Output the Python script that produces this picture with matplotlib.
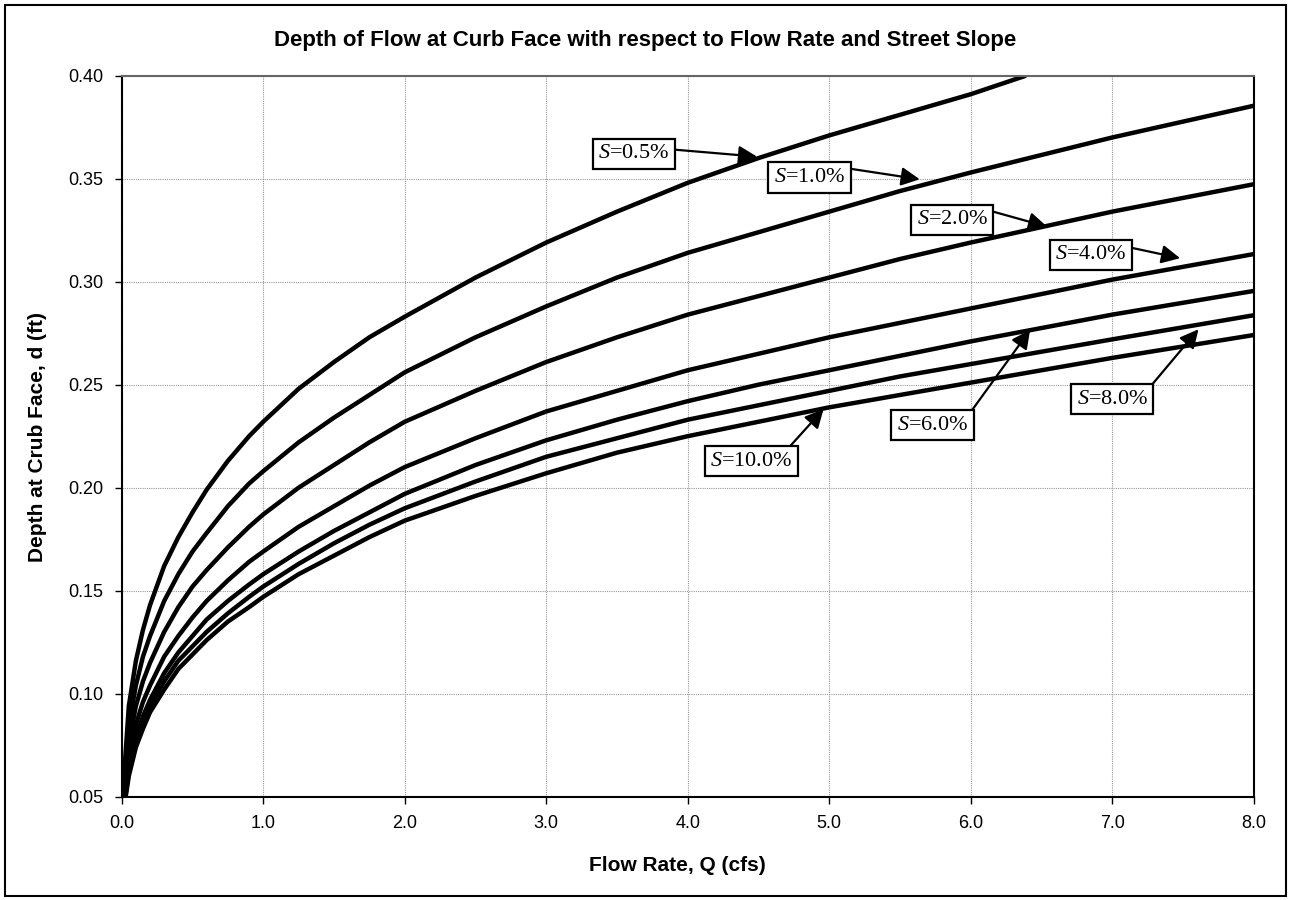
import matplotlib
matplotlib.use("Agg")
import matplotlib.pyplot as plt
from matplotlib.patches import Rectangle

plt.rcParams['font.family'] = 'Liberation Sans'
plt.rcParams['mathtext.fontset'] = 'custom'
plt.rcParams['mathtext.it'] = 'Liberation Serif:italic'
plt.rcParams['mathtext.rm'] = 'Liberation Serif'

# ==============================
# Datos
# ==============================

# Caudal Q (cfs), comun para las pendientes 1% a 10%
q_comun = [0.05, 0.1, 0.15, 0.2, 0.3, 0.4, 0.5, 0.6, 0.75, 0.9, 1.0,
           1.25, 1.5, 1.75, 2.0, 2.5, 3.0, 3.5, 4.0, 4.5, 5.0, 5.5, 6.0, 7.0, 8.0]

# S = 0.5% (termina en d = 0.40)
q_s05 = [0.006, 0.05, 0.1, 0.15, 0.2, 0.3, 0.4, 0.5, 0.6, 0.75, 0.9, 1.0,
         1.25, 1.5, 1.75, 2.0, 2.5, 3.0, 3.5, 4.0, 4.5, 5.0, 5.5, 6.0, 6.39]
d_s05 = [0.05, 0.094, 0.116, 0.131, 0.143, 0.162, 0.176, 0.188, 0.199, 0.213, 0.225, 0.232,
         0.248, 0.261, 0.273, 0.283, 0.302, 0.319, 0.334, 0.348, 0.360, 0.371, 0.381, 0.391, 0.400]

# punto inicial (d = 0.05) de cada curva
q_inicio = {"1.0": 0.009, "2.0": 0.012, "4.0": 0.017, "6.0": 0.021, "8.0": 0.025, "10.0": 0.028}

d_s1 = [0.085, 0.104, 0.118, 0.128, 0.145, 0.158, 0.169, 0.178, 0.191, 0.202, 0.208,
        0.222, 0.234, 0.245, 0.256, 0.273, 0.288, 0.302, 0.314, 0.324, 0.334, 0.344, 0.353, 0.370, 0.3854]
d_s2 = [0.076, 0.094, 0.106, 0.115, 0.130, 0.142, 0.152, 0.160, 0.171, 0.181, 0.187,
        0.200, 0.211, 0.222, 0.232, 0.247, 0.261, 0.273, 0.284, 0.293, 0.302, 0.311, 0.319, 0.334, 0.3473]
d_s4 = [0.069, 0.085, 0.096, 0.104, 0.118, 0.128, 0.137, 0.145, 0.155, 0.164, 0.169,
        0.181, 0.191, 0.201, 0.210, 0.224, 0.237, 0.247, 0.257, 0.265, 0.273, 0.280, 0.287, 0.301, 0.3134]
d_s6 = [0.064, 0.079, 0.089, 0.097, 0.110, 0.120, 0.128, 0.136, 0.145, 0.153, 0.158,
        0.169, 0.179, 0.188, 0.197, 0.211, 0.223, 0.233, 0.242, 0.250, 0.257, 0.264, 0.271, 0.284, 0.2955]
d_s8 = [0.062, 0.076, 0.086, 0.094, 0.106, 0.116, 0.123, 0.130, 0.139, 0.147, 0.152,
        0.163, 0.173, 0.182, 0.190, 0.203, 0.215, 0.224, 0.233, 0.240, 0.247, 0.254, 0.260, 0.272, 0.2837]
d_s10 = [0.060, 0.074, 0.083, 0.091, 0.102, 0.112, 0.119, 0.126, 0.135, 0.142, 0.147,
         0.158, 0.167, 0.176, 0.184, 0.196, 0.207, 0.217, 0.225, 0.232, 0.239, 0.245, 0.251, 0.263, 0.2741]

curvas = {"1.0": d_s1, "2.0": d_s2, "4.0": d_s4, "6.0": d_s6, "8.0": d_s8, "10.0": d_s10}

# Etiquetas: texto, centro de la caja, punta de la flecha, punto de salida relativo
etiquetas = ["0.5", "1.0", "2.0", "4.0", "6.0", "8.0", "10.0"]
pos_caja = [(3.62, 0.362), (4.86, 0.3506), (5.87, 0.3301), (6.85, 0.313), (5.73, 0.2304), (7.00, 0.243), (4.45, 0.2129)]
pos_punta = [(4.49, 0.3607), (5.64, 0.3497), (6.54, 0.3267), (7.48, 0.3114), (6.42, 0.2766), (7.61, 0.2769), (4.96, 0.2381)]
rel_salida = [(1.0, 0.75), (1.0, 1.0), (1.0, 1.0), (1.0, 0.93), (1.0, 1.0), (1.0, 1.0), (0.91, 1.0)]

# ==============================
# Grafica
# ==============================

fig = plt.figure(figsize=(12.91, 9.0), dpi=100)
ax = fig.add_axes([0.0943, 0.1148, 0.8768, 0.8011])

ax.plot(q_s05, d_s05, color='black', lw=3.2, solid_capstyle='butt')
for s, d in curvas.items():
    ax.plot([q_inicio[s]] + q_comun, [0.05] + d, color='black', lw=3.2, solid_capstyle='butt')

ax.set_xlim(0, 8)
ax.set_ylim(0.05, 0.40)
ax.set_xticks([0, 1, 2, 3, 4, 5, 6, 7, 8])
ax.set_xticklabels([f"{v:.1f}" for v in range(9)])
ax.set_yticks([0.05, 0.10, 0.15, 0.20, 0.25, 0.30, 0.35, 0.40])
ax.set_yticklabels([f"{v:.2f}" for v in [0.05, 0.10, 0.15, 0.20, 0.25, 0.30, 0.35, 0.40]])
ax.tick_params(labelsize=13, length=5, width=1, direction='out', pad=8)
ax.grid(True, color='#999999', linestyle=(0, (1, 1)), lw=0.8)
ax.set_axisbelow(True)

for lado in ['left', 'bottom']:
    ax.spines[lado].set_linewidth(1.5)
ax.spines['top'].set_color('#666666')
ax.spines['top'].set_linewidth(1.5)
ax.spines['right'].set_linewidth(1.5)

for txt, caja, punta, rel in zip(etiquetas, pos_caja, pos_punta, rel_salida):
    ax.annotate(r"$S$=" + txt + "%", xy=punta, xytext=caja,
                ha='center', va='center', fontsize=16, family='Liberation Serif',
                bbox=dict(boxstyle='square,pad=0.25', fc='white', ec='black', lw=1.6),
                arrowprops=dict(arrowstyle='-|>', mutation_scale=28, lw=1.6, color='black',
                                shrinkA=0, shrinkB=0, relpos=rel))

fig.text(0.5, 0.955, "Depth of Flow at Curb Face with respect to Flow Rate and Street Slope",
         ha='center', va='center', fontsize=16, fontweight='bold')
fig.text(0.525, 0.038, "Flow Rate, Q (cfs)", ha='center', va='center', fontsize=15, fontweight='bold')
fig.text(0.029, 0.515, "Depth at Crub Face, d (ft)", ha='center', va='center', rotation=90,
         fontsize=15, fontweight='bold')

# Marco exterior
fig.patches.append(Rectangle((0.004, 0.005), 0.992, 0.99, transform=fig.transFigure,
                             fill=False, ec='black', lw=1.5))

plt.savefig("out.png", dpi=100)
plt.close()
